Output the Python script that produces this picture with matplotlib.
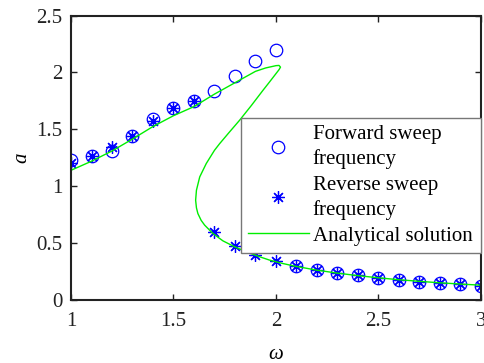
import matplotlib.pyplot as plt

plt.rcParams['font.family'] = ['Liberation Serif', 'DejaVu Serif']

# forward sweep: omega goes up, jumps down after 2.0
fwd_w = [1.0, 1.1, 1.2, 1.3, 1.4, 1.5, 1.6, 1.7, 1.8, 1.9, 2.0,
         2.1, 2.2, 2.3, 2.4, 2.5, 2.6, 2.7, 2.8, 2.9, 3.0]
fwd_a = [1.23, 1.27, 1.31, 1.44, 1.59, 1.69, 1.75, 1.84, 1.97, 2.10, 2.20,
         0.30, 0.263, 0.237, 0.219, 0.196, 0.175, 0.161, 0.146, 0.137, 0.126]

# reverse sweep: omega goes down, jumps up after 1.7
rev_w = [3.0, 2.9, 2.8, 2.7, 2.6, 2.5, 2.4, 2.3, 2.2, 2.1, 2.0, 1.9, 1.8, 1.7,
         1.6, 1.5, 1.4, 1.3, 1.2, 1.1, 1.0]
rev_a = [0.126, 0.137, 0.146, 0.161, 0.175, 0.196, 0.219, 0.237, 0.263, 0.30,
         0.342, 0.395, 0.476, 0.60,
         1.75, 1.69, 1.57, 1.44, 1.345, 1.27, 1.20]

# analytical frequency response curve (upper, unstable and lower branches)
ana_w = [1.0, 1.1, 1.2, 1.3, 1.4, 1.5, 1.6, 1.7, 1.8, 1.9, 1.95, 2.0, 2.015,
         2.022, 2.015, 2.0, 1.97, 1.936, 1.88, 1.822, 1.77, 1.725, 1.70, 1.66,
         1.628, 1.612, 1.608, 1.612, 1.619, 1.635, 1.652, 1.692, 1.741, 1.798,
         1.855, 1.92, 1.968, 2.03, 2.09, 2.2, 2.3, 2.4, 2.5, 2.6, 2.7, 2.8,
         2.9, 3.0]
ana_a = [1.14, 1.22, 1.31, 1.415, 1.525, 1.62, 1.70, 1.81, 1.91, 2.01, 2.04,
         2.06, 2.062, 2.047, 2.025, 1.99, 1.92, 1.842, 1.71, 1.579, 1.47, 1.374,
         1.316, 1.20, 1.082, 0.965, 0.877, 0.81, 0.76, 0.70, 0.658, 0.585,
         0.52, 0.468, 0.424, 0.38, 0.351, 0.322, 0.298, 0.262, 0.236, 0.214,
         0.195, 0.178, 0.164, 0.151, 0.140, 0.130]

fig = plt.figure(figsize=(4.84, 3.63), dpi=100)
ax = fig.add_axes([0.1467, 0.1736, 0.847, 0.7834])

ax.plot(fwd_w, fwd_a, linestyle='none', marker='o', markersize=9,
        markerfacecolor='none', markeredgecolor='b', markeredgewidth=0.9,
        label='Forward sweep\nfrequency')
ax.plot(rev_w, rev_a, linestyle='none', marker=(8, 2, 0), markersize=9,
        color='b', markeredgewidth=0.9, label='Reverse sweep\nfrequency')
ax.plot(ana_w, ana_a, color='#00ee00', linewidth=1.0,
        label='Analytical solution')

ax.set_xlim(1, 3)
ax.set_ylim(0, 2.5)
ax.set_xticks([1, 1.5, 2, 2.5, 3])
ax.set_xticklabels(['1', '1.5', '2', '2.5', '3'])
ax.set_yticks([0, 0.5, 1, 1.5, 2, 2.5])
ax.set_yticklabels(['0', '0.5', '1', '1.5', '2', '2.5'])
ax.tick_params(direction='in', top=True, right=True, length=4, width=1,
               labelsize=15, colors='#222222')
ax.tick_params(axis='x', pad=9)
ax.tick_params(axis='y', pad=6)
for s in ax.spines.values():
    s.set_linewidth(1.5)
    s.set_color('#222222')

ax.set_xlabel('ω', fontsize=15, style='italic', labelpad=10)
ax.set_ylabel('a', fontsize=15, style='italic', labelpad=4)

leg = ax.legend(loc='upper left', bbox_to_anchor=(0.4146, 0.176, 0.5854, 0.465),
                mode='expand', fontsize=15,
                frameon=True, fancybox=False, framealpha=1, edgecolor='#777777',
                handlelength=2.9, handletextpad=0.2, labelspacing=0.3,
                borderpad=0.35, borderaxespad=0)
leg.get_frame().set_linewidth(1.0)
for t in leg.get_texts():
    t.set_linespacing(1.36)

fig.savefig('out.png', dpi=100)
